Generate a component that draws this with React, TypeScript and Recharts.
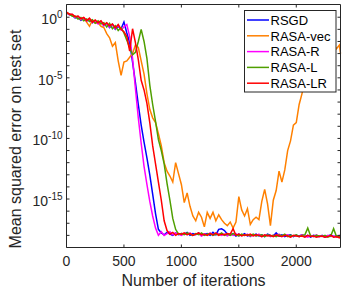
import { LineChart, Line, XAxis, YAxis } from 'recharts';

// iteration grid (x values)
const ITERATIONS = [
  0, 25, 50, 75, 100, 125, 150, 175, 200, 225, 250, 275, 300, 325, 350, 375, 400, 425, 450, 475, 500,
  525, 550, 575, 600, 625, 650, 675, 700, 725, 750, 775, 800,
  825, 850, 875, 900, 925, 950, 975, 1000,
  1025, 1050, 1075, 1100, 1125, 1150, 1175, 1200,
  1225, 1250, 1275, 1300, 1325, 1350, 1375, 1400,
  1425, 1450, 1475, 1500, 1525, 1550, 1575, 1600,
  1625, 1650, 1675, 1700, 1725, 1750, 1775, 1800,
  1825, 1850, 1875, 1900, 1925, 1950, 1975, 2000,
  2025, 2050, 2075, 2100, 2125, 2150, 2175, 2200,
  2225, 2250, 2275, 2300, 2325, 2350, 2375, 2385,
];

// log10 of the mean squared error
const RSGD = [
  0.38, 0.2, 0.15, -0.05, 0.0, -0.25, -0.1, -0.3, -0.2, -0.45, -0.3, -0.5, -0.4, -0.7, -0.5, -0.85, -0.6, -1.0, -0.75, -0.95, -0.4,
  -1.3, -2.1, -3.7, -5.4, -7.2, -8.9, -10.3, -11.6, -13.0, -14.6, -16.2, -17.5,
  -17.8, -17.95, -17.75, -17.9, -18.0, -17.8, -17.95, -17.85,
  -17.9, -17.75, -18.0, -17.85, -17.95, -17.8, -18.0, -17.9,
  -17.85, -18.0, -17.75, -17.95, -17.5, -17.45, -17.6, -17.9,
  -17.95, -17.85, -18.05, -17.9, -18.0, -17.85, -18.05, -17.95,
  -18.0, -17.9, -18.05, -17.95, -18.1, -17.9, -18.0, -18.05,
  -17.8, -18.05, -17.95, -18.1, -18.0, -17.95, -18.1, -18.0,
  -18.05, -17.95, -18.1, -18.0, -18.15, -18.0, -18.05, -18.1,
  -18.0, -18.15, -18.05, -17.95, -18.1, -18.05, -18.15, -18.1,
];

const RASA_VEC = [
  0.38, 0.22, 0.18, -0.02, 0.05, -0.2, -0.05, -0.4, -0.75, -0.25, -0.5, -0.45, -0.75, -0.85, -1.35, -1.7, -2.4, -2.1, -3.6, -4.8, -3.7,
  -3.6, -3.3, -3.0, -2.3, -2.5, -3.6, -4.7, -6.3, -7.6, -8.3, -8.7, -9.6,
  -10.6, -12.0, -12.7, -13.1, -13.6, -12.0, -12.9, -13.8,
  -15.3, -14.5, -15.6, -16.4, -16.8, -16.1, -16.5, -17.3,
  -16.1, -16.6, -16.1, -16.8, -16.3, -16.7, -17.0, -17.2,
  -16.9, -17.4, -16.9, -14.8, -15.9, -16.4, -15.8, -17.1,
  -16.7, -16.5, -16.7, -15.2, -14.2, -15.4, -17.2, -15.1,
  -14.3, -12.7, -13.6, -12.6, -11.0, -10.2, -8.9, -8.7,
  -7.2, -6.3, -5.1, -4.4, -3.8, -3.2, -2.9, -2.6,
  -2.4, -2.6, -2.2, -2.5, -2.3, -2.6, -2.3, -3.0,
];

const RASA_R = [
  0.4, 0.22, 0.22, 0.0, 0.08, -0.18, -0.05, -0.32, -0.15, -0.42, -0.3, -0.55, -0.35, -0.7, -0.5, -0.8, -0.6, -0.95, -0.65, -1.05, -0.8,
  -0.6, -1.6, -3.4, -5.9, -8.3, -10.4, -12.3, -13.8, -15.2, -16.4, -17.4, -18.0,
  -17.7, -18.0, -17.85, -17.7, -17.95, -17.8, -17.9, -18.0,
  -17.85, -17.95, -17.8, -18.0, -17.9, -17.85, -18.05, -17.9,
  -17.95, -17.8, -18.0, -17.9, -17.85, -18.0, -17.9, -18.05,
  -17.9, -18.0, -17.85, -18.05, -17.95, -18.0, -17.9, -18.1,
  -17.95, -18.05, -17.9, -18.1, -18.0, -17.95, -18.1, -18.0,
  -18.05, -17.9, -18.1, -18.0, -17.95, -18.1, -18.05, -18.0,
  -18.1, -17.95, -18.05, -18.15, -18.0, -18.1, -17.95, -18.1,
  -18.05, -18.15, -18.0, -18.1, -18.05, -18.15, -18.0, -18.1,
];

const RASA_L = [
  0.35, 0.28, 0.08, 0.1, -0.15, -0.02, -0.3, -0.15, -0.35, -0.2, -0.5, -0.3, -0.55, -0.45, -0.8, -0.5, -0.95, -0.7, -1.1, -0.85, -1.3,
  -1.9, -2.5, -3.1, -2.9, -2.0, -1.0, -2.0, -3.4, -5.6, -7.2, -8.6, -10.1,
  -11.0, -12.1, -13.7, -15.1, -16.6, -17.5, -17.9, -17.85,
  -17.95, -17.8, -17.9, -18.0, -17.85, -17.95, -17.8, -18.0,
  -17.9, -17.85, -18.0, -17.9, -17.95, -17.8, -18.0, -17.9,
  -18.0, -17.85, -17.95, -18.05, -17.9, -18.0, -17.95, -18.05,
  -17.9, -18.05, -18.0, -17.95, -18.1, -17.95, -18.05, -18.0,
  -18.1, -17.95, -18.05, -17.9, -18.1, -18.0, -18.05, -17.95,
  -18.1, -18.0, -17.95, -17.4, -18.05, -18.1, -18.0, -18.05,
  -18.1, -18.0, -18.15, -18.05, -17.45, -18.1, -18.05, -18.15,
];

const RASA_LR = [
  0.42, 0.25, 0.24, 0.05, 0.1, -0.12, -0.02, -0.28, -0.08, -0.4, -0.22, -0.45, -0.3, -0.62, -0.45, -0.7, -0.55, -0.88, -0.6, -1.0, -1.2,
  -1.6, -2.8, -0.95, -2.1, -3.5, -5.2, -6.0, -7.1, -8.7, -10.6, -12.1, -13.6,
  -15.1, -16.8, -17.6, -17.9, -17.75, -18.0, -17.85, -17.9,
  -17.8, -17.95, -17.85, -18.0, -17.9, -17.8, -17.95, -17.9,
  -18.0, -17.85, -17.95, -17.8, -18.0, -17.9, -17.95, -17.85,
  -17.9, -17.45, -18.0, -17.9, -18.05, -17.95, -18.0, -17.9,
  -18.05, -17.95, -18.0, -18.1, -17.95, -18.05, -18.0, -18.1,
  -17.95, -18.05, -18.1, -18.0, -18.05, -18.15, -18.0, -18.05,
  -18.1, -18.05, -18.15, -18.0, -18.1, -18.05, -18.15, -18.1,
  -18.05, -18.15, -18.1, -18.0, -18.15, -18.1, -18.2, -18.1,
];

const SERIES_NAMES = ['RSGD', 'RASA-vec', 'RASA-R', 'RASA-L', 'RASA-LR'];
const SERIES_COLORS = ['#0000ff', '#ff8000', '#ff00ff', '#4f9f00', '#ff0000'];
const SERIES_VALUES = [RSGD, RASA_VEC, RASA_R, RASA_L, RASA_LR];

const X_TICKS = [0, 500, 1000, 1500, 2000];
const Y_TICKS = [-18, -17, -16, -15, -14, -13, -12, -11, -10, -9, -8, -7, -6, -5, -4, -3, -2, -1, 0];
const Y_LABELED = [0, -5, -10, -15];

const FONT = '"Liberation Sans", Arial, Helvetica, sans-serif';
const AXIS = '#262626';

const data = ITERATIONS.map((it, i) => {
  const row: Record<string, number> = { it };
  SERIES_NAMES.forEach((name, s) => {
    row[name] = SERIES_VALUES[s][i];
  });
  return row;
});

// inward tick marks, MATLAB style
function BottomTick({ x, y, payload }: any) {
  return (
    <g>
      <line x1={x} y1={y} x2={x} y2={y - 3} stroke={AXIS} />
      <text x={x} y={y + 18.5} textAnchor="middle" fontSize={14} fill={AXIS} fontFamily={FONT}>
        {payload.value}
      </text>
    </g>
  );
}

function TopTick({ x, y }: any) {
  return <line x1={x} y1={y} x2={x} y2={y + 3} stroke={AXIS} />;
}

function LeftTick({ x, y, payload }: any) {
  const v = payload.value;
  return (
    <g>
      <line x1={x} y1={y} x2={x + 3} y2={y} stroke={AXIS} />
      {Y_LABELED.includes(v) && (
        <text x={x - 4} y={y + 7} textAnchor="end" fontSize={14} fill={AXIS} fontFamily={FONT}>
          <tspan>10</tspan>
          <tspan dy={-6} fontSize={10}>{v}</tspan>
        </text>
      )}
    </g>
  );
}

function RightTick({ x, y }: any) {
  return <line x1={x} y1={y} x2={x - 3} y2={y} stroke={AXIS} />;
}

export default function App() {
  return (
    <div style={{ position: 'fixed', left: 0, top: 0, width: 344, height: 293, background: '#fff' }}>
      <LineChart width={344} height={293} data={data} margin={{ top: 0, right: 0, bottom: 0, left: 0 }}>
        <XAxis
          xAxisId="b"
          dataKey="it"
          type="number"
          domain={[0, 2385]}
          ticks={X_TICKS}
          interval={0}
          height={45.5}
          tickSize={0}
          tickMargin={0}
          tick={<BottomTick />}
          axisLine={{ stroke: AXIS }}
        />
        <XAxis
          xAxisId="t"
          orientation="top"
          dataKey="it"
          type="number"
          domain={[0, 2385]}
          ticks={X_TICKS}
          interval={0}
          height={4.5}
          tickSize={0}
          tickMargin={0}
          tick={<TopTick />}
          axisLine={{ stroke: AXIS }}
        />
        <YAxis
          yAxisId="l"
          type="number"
          domain={[-19, 1.05]}
          ticks={Y_TICKS}
          interval={0}
          width={66.5}
          tickSize={0}
          tickMargin={0}
          tick={<LeftTick />}
          axisLine={{ stroke: AXIS }}
          allowDataOverflow
        />
        <YAxis
          yAxisId="r"
          orientation="right"
          type="number"
          domain={[-19, 1.05]}
          ticks={Y_TICKS}
          interval={0}
          width={3.5}
          tickSize={0}
          tickMargin={0}
          tick={<RightTick />}
          axisLine={{ stroke: AXIS }}
          allowDataOverflow
        />
        {SERIES_NAMES.map((name, s) => (
          <Line
            key={name}
            xAxisId="b"
            yAxisId="l"
            type="linear"
            dataKey={name}
            stroke={SERIES_COLORS[s]}
            strokeWidth={1.5}
            dot={false}
            isAnimationActive={false}
          />
        ))}
      </LineChart>
      <svg
        width={344}
        height={293}
        style={{ position: 'absolute', left: 0, top: 0, pointerEvents: 'none' }}
        fontFamily={FONT}
      >
        <text x={193.5} y={286} textAnchor="middle" fontSize={16} fill={AXIS}>
          Number of iterations
        </text>
        <text
          x={20.5}
          y={139}
          textAnchor="middle"
          fontSize={16}
          fill={AXIS}
          transform="rotate(-90 20.5 139)"
        >
          Mean squared error on test set
        </text>
        <rect x={244.5} y={10.5} width={91.5} height={81.5} fill="#fff" stroke={AXIS} />
        {SERIES_NAMES.map((name, s) => (
          <g key={name}>
            <line x1={247} y1={20 + s * 15.8} x2={269} y2={20 + s * 15.8} stroke={SERIES_COLORS[s]} strokeWidth={1.5} />
            <text x={270.5} y={24.7 + s * 15.8} fontSize={13} fill="#000">
              {name}
            </text>
          </g>
        ))}
      </svg>
    </div>
  );
}
